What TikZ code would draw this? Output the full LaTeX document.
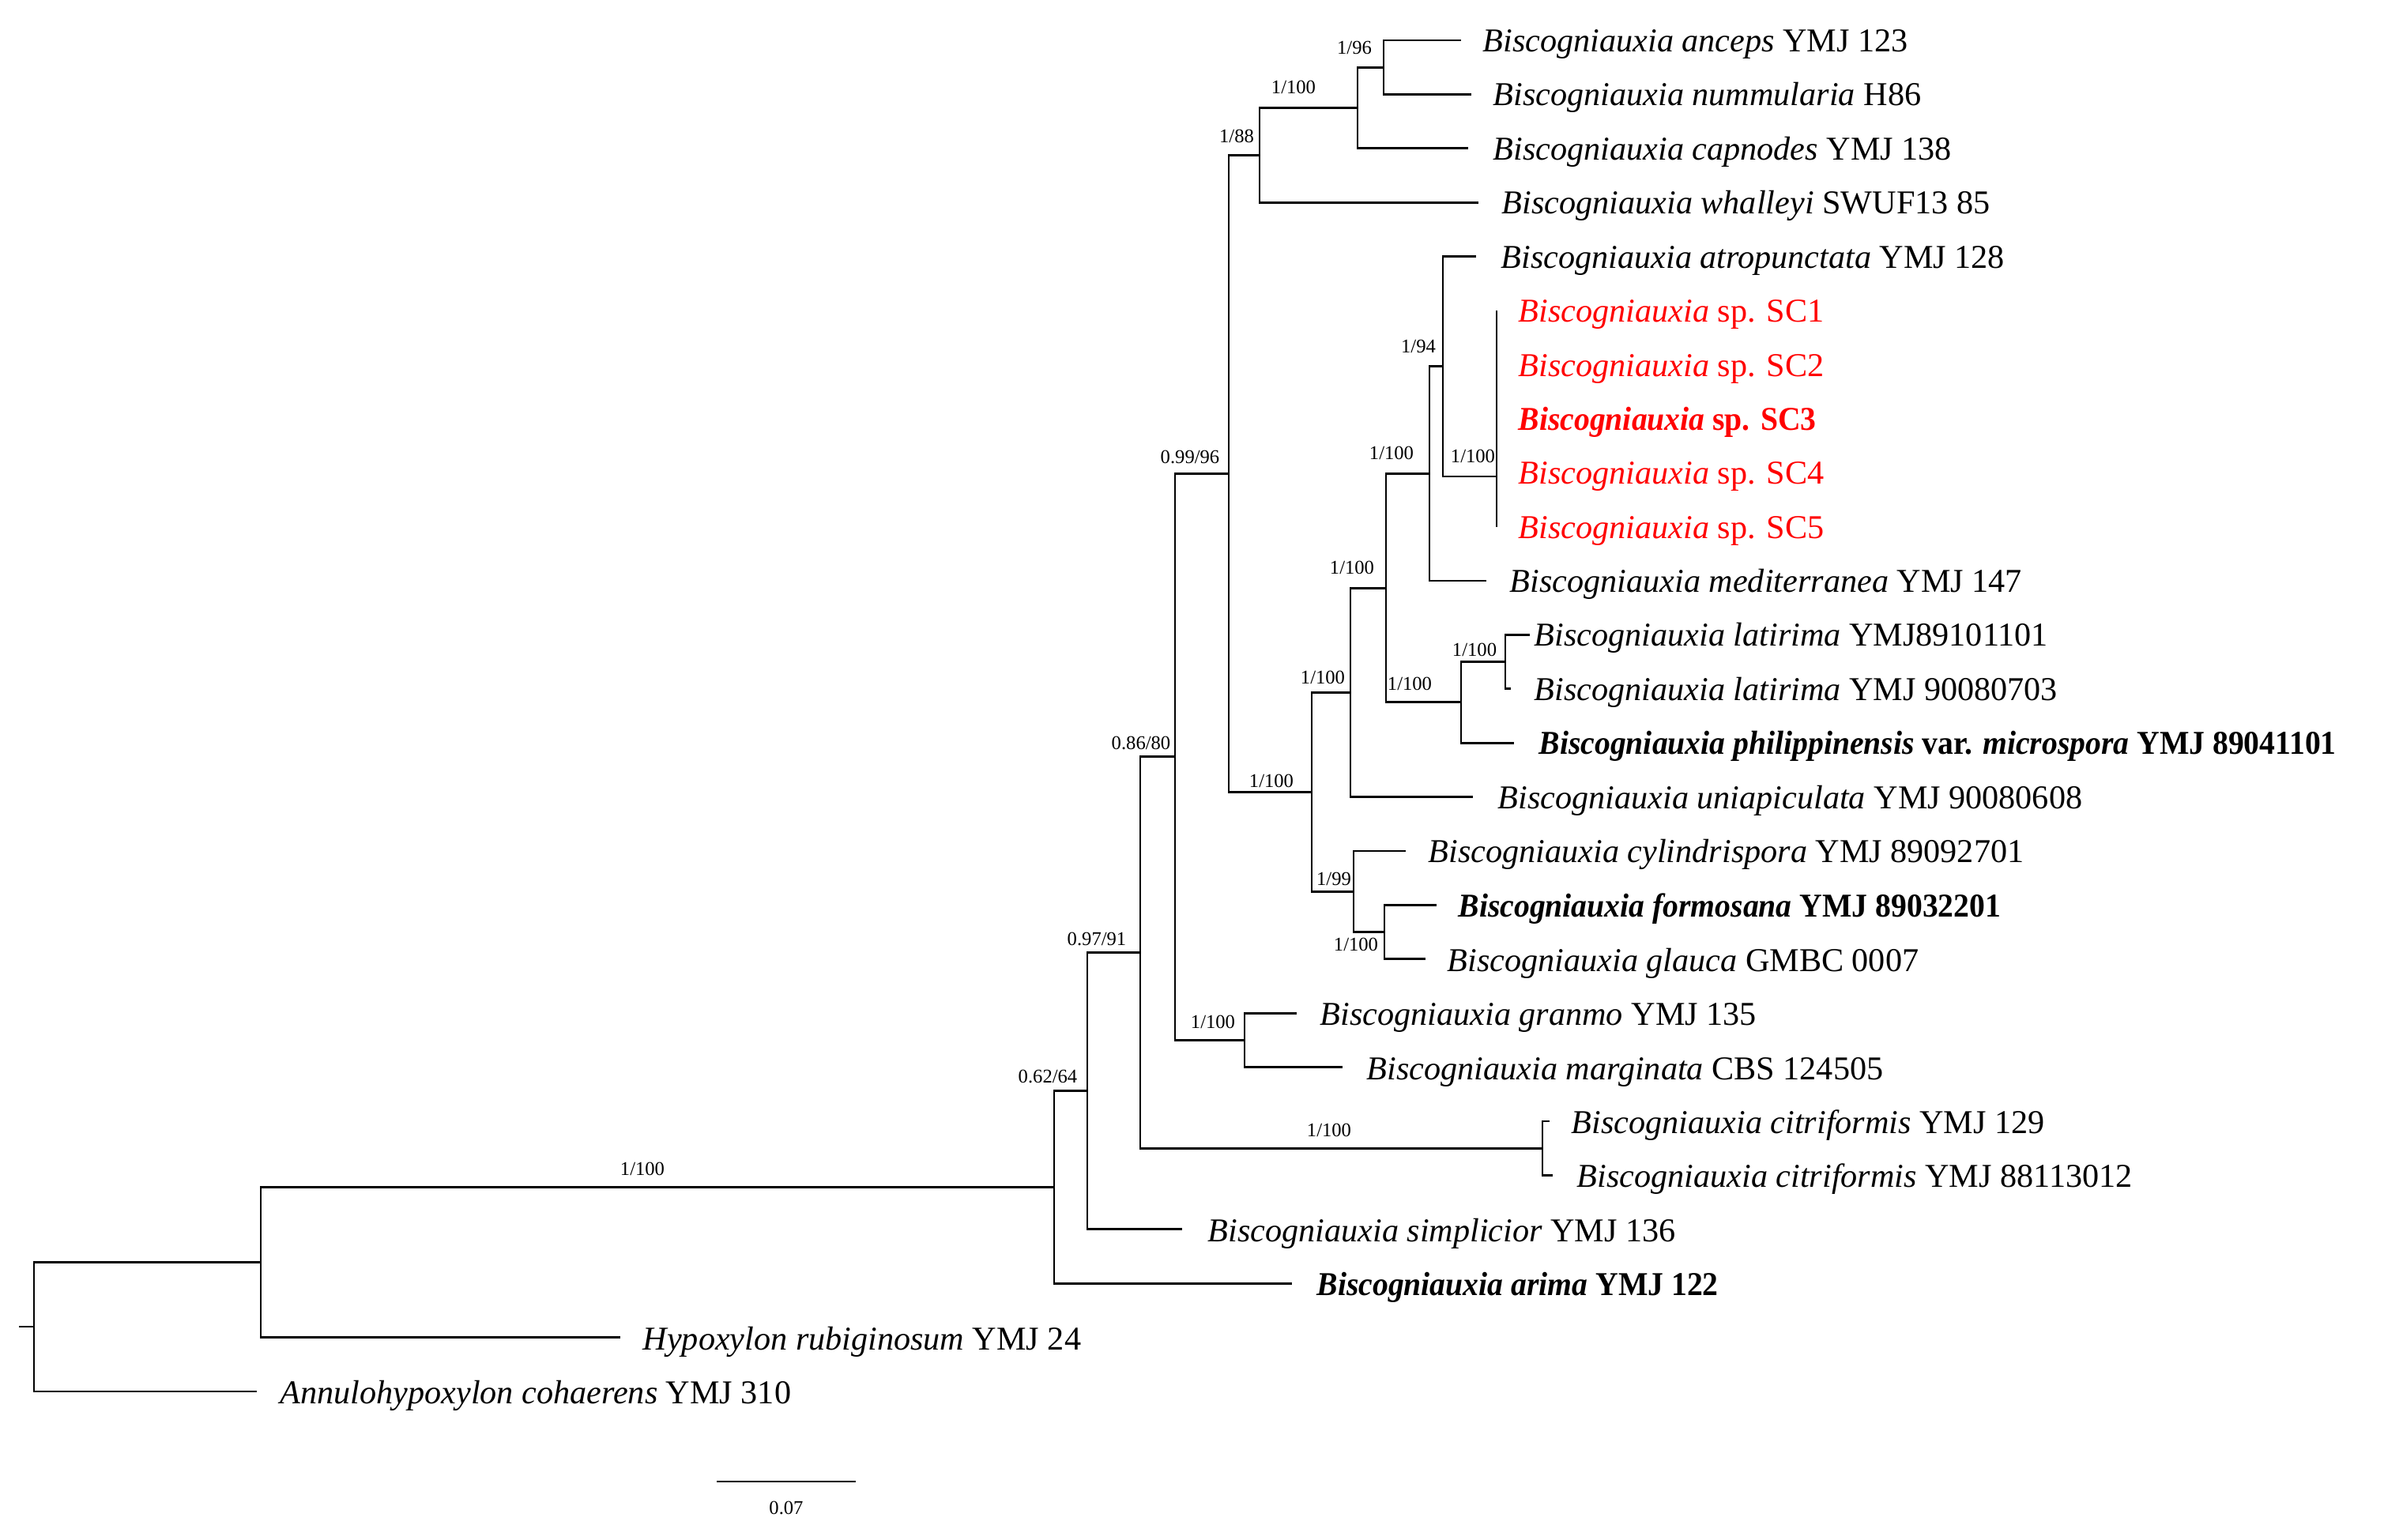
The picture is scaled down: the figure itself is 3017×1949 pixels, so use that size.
\documentclass[tikz,border=0pt]{standalone}
\usepackage{fontspec}
\setmainfont{Liberation Serif}[BoldFeatures={FakeStretch=0.94},BoldItalicFeatures={FakeStretch=0.94}]
\usetikzlibrary{positioning}
\begin{document}
\begin{tikzpicture}
	[x=0.01cm,y=-0.01cm,
	branch/.style={line width=0.8pt},
	taxon/.style={anchor=base west,inner sep=0pt,font=\fontsize{12}{14}\selectfont},
	ours/.style={taxon,text=red},
	support/.style={inner sep=0pt,font=\fontsize{7}{8}\selectfont}]
	\useasboundingbox (0,0) rectangle (3017,1949);
	% internal nodes
	\coordinate (stub) at (24,1679);
	\coordinate (root) at (43,1679);
	\coordinate (nHyp) at (330,1597.5);
	\coordinate (nArima) at (1334,1502.4);
	\coordinate (nSimpl) at (1376,1380.7);
	\coordinate (nCore) at (1443,1205.5);
	\coordinate (nCit) at (1952,1453.2);
	\coordinate (nMain) at (1487,957.9);
	\coordinate (nGM) at (1575,1316.4);
	\coordinate (nUpper) at (1555,599.35);
	\coordinate (nWhal) at (1594,196.35);
	\coordinate (nCap) at (1718,136.5);
	\coordinate (nAnc) at (1751,85.2);
	\coordinate (nLower) at (1660,1002.35);
	\coordinate (nCyl) at (1713,1128.3);
	\coordinate (nFG) at (1752,1179.6);
	\coordinate (nUni) at (1709,876.4);
	\coordinate (nPair) at (1754,744.2);
	\coordinate (nMed) at (1809,599.4);
	\coordinate (nAtro) at (1826,463.8);
	\coordinate (nSC) at (1894,603);
	\coordinate (nPhil) at (1849,888.9);
	\coordinate (nLat) at (1905,837.6);
	% tips
	\coordinate (anceps) at (1849,51);
	\coordinate (nummularia) at (1862,119.4);
	\coordinate (capnodes) at (1858,187.8);
	\coordinate (whalleyi) at (1871,256.2);
	\coordinate (atropunctata) at (1868,324.6);
	\coordinate (sc1) at (1894,393);
	\coordinate (sc5) at (1894,666.6);
	\coordinate (mediterranea) at (1881,735);
	\coordinate (latA) at (1936,803.4);
	\coordinate (latB) at (1912,871.8);
	\coordinate (philipp) at (1916,940.2);
	\coordinate (uniap) at (1864,1008.6);
	\coordinate (cylind) at (1779,1077);
	\coordinate (formosana) at (1818,1145.4);
	\coordinate (glauca) at (1804,1213.8);
	\coordinate (granmo) at (1641,1282.2);
	\coordinate (marginata) at (1699,1350.6);
	\coordinate (citA) at (1961,1419);
	\coordinate (citB) at (1965,1487.4);
	\coordinate (simplicior) at (1496,1555.8);
	\coordinate (arima) at (1635,1624.2);
	\coordinate (hypoxylon) at (785,1692.6);
	\coordinate (annulo) at (325,1761);
	% branches
	\draw[branch] (stub) -- (root);
	\draw[branch] (root) |- (nHyp);
	\draw[branch] (root) |- (annulo);
	\draw[branch] (nHyp) |- (nArima);
	\draw[branch] (nHyp) |- (hypoxylon);
	\draw[branch] (nArima) |- (nSimpl);
	\draw[branch] (nArima) |- (arima);
	\draw[branch] (nSimpl) |- (nCore);
	\draw[branch] (nSimpl) |- (simplicior);
	\draw[branch] (nCore) |- (nMain);
	\draw[branch] (nCore) |- (nCit);
	\draw[branch] (nCit) |- (citA);
	\draw[branch] (nCit) |- (citB);
	\draw[branch] (nMain) |- (nUpper);
	\draw[branch] (nMain) |- (nGM);
	\draw[branch] (nGM) |- (granmo);
	\draw[branch] (nGM) |- (marginata);
	\draw[branch] (nUpper) |- (nWhal);
	\draw[branch] (nUpper) |- (nLower);
	\draw[branch] (nWhal) |- (nCap);
	\draw[branch] (nWhal) |- (whalleyi);
	\draw[branch] (nCap) |- (nAnc);
	\draw[branch] (nCap) |- (capnodes);
	\draw[branch] (nAnc) |- (anceps);
	\draw[branch] (nAnc) |- (nummularia);
	\draw[branch] (nLower) |- (nUni);
	\draw[branch] (nLower) |- (nCyl);
	\draw[branch] (nCyl) |- (cylind);
	\draw[branch] (nCyl) |- (nFG);
	\draw[branch] (nFG) |- (formosana);
	\draw[branch] (nFG) |- (glauca);
	\draw[branch] (nUni) |- (nPair);
	\draw[branch] (nUni) |- (uniap);
	\draw[branch] (nPair) |- (nMed);
	\draw[branch] (nPair) |- (nPhil);
	\draw[branch] (nMed) |- (nAtro);
	\draw[branch] (nMed) |- (mediterranea);
	\draw[branch] (nAtro) |- (atropunctata);
	\draw[branch] (nAtro) |- (nSC);
	\draw[branch] (sc1) -- (sc5);
	\draw[branch] (nPhil) |- (nLat);
	\draw[branch] (nPhil) |- (philipp);
	\draw[branch] (nLat) |- (latA);
	\draw[branch] (nLat) |- (latB);
	% taxon names
	\node[taxon] (tAnceps) at (1876,66) {\textit{Biscogniauxia anceps} YMJ 123};
	\node[taxon] (tNumm) at (1889,134) {\textit{Biscogniauxia nummularia} H86};
	\node[taxon] (tCapn) at (1889,203) {\textit{Biscogniauxia capnodes} YMJ 138};
	\node[taxon] (tWhal) at (1900,271) {\textit{Biscogniauxia whalleyi} SWUF13 85};
	\node[taxon] (tAtro) at (1899,340) {\textit{Biscogniauxia atropunctata} YMJ 128};
	\node[ours] (tSC1) at (1921,408) {\textit{Biscogniauxia} sp. SC1};
	\node[ours] (tSC2) at (1921,477) {\textit{Biscogniauxia} sp. SC2};
	\node[ours] (tSC3) at (1921,545) {\textbf{\textit{Biscogniauxia} sp. SC3}};
	\node[ours] (tSC4) at (1921,613) {\textit{Biscogniauxia} sp. SC4};
	\node[ours] (tSC5) at (1921,682) {\textit{Biscogniauxia} sp. SC5};
	\node[taxon] (tMed) at (1910,750) {\textit{Biscogniauxia mediterranea} YMJ 147};
	\node[taxon] (tLatA) at (1941,818) {\textit{Biscogniauxia latirima} YMJ89101101};
	\node[taxon] (tLatB) at (1941,887) {\textit{Biscogniauxia latirima} YMJ 90080703};
	\node[taxon] (tPhil) at (1947,955) {\textbf{\textit{Biscogniauxia philippinensis} var. \textit{microspora} YMJ 89041101}};
	\node[taxon] (tUni) at (1895,1024) {\textit{Biscogniauxia uniapiculata} YMJ 90080608};
	\node[taxon] (tCyl) at (1807,1092) {\textit{Biscogniauxia cylindrispora} YMJ 89092701};
	\node[taxon] (tForm) at (1845,1160) {\textbf{\textit{Biscogniauxia formosana} YMJ 89032201}};
	\node[taxon] (tGlau) at (1831,1229) {\textit{Biscogniauxia glauca} GMBC 0007};
	\node[taxon] (tGran) at (1670,1297) {\textit{Biscogniauxia granmo} YMJ 135};
	\node[taxon] (tMarg) at (1729,1366) {\textit{Biscogniauxia marginata} CBS 124505};
	\node[taxon] (tCitA) at (1988,1434) {\textit{Biscogniauxia citriformis} YMJ 129};
	\node[taxon] (tCitB) at (1995,1502) {\textit{Biscogniauxia citriformis} YMJ 88113012};
	\node[taxon] (tSimp) at (1528,1571) {\textit{Biscogniauxia simplicior} YMJ 136};
	\node[taxon] (tArima) at (1666,1639) {\textbf{\textit{Biscogniauxia arima} YMJ 122}};
	\node[taxon] (tHyp) at (813,1708) {\textit{Hypoxylon rubiginosum} YMJ 24};
	\node[taxon] (tAnnulo) at (354,1776) {\textit{Annulohypoxylon cohaerens} YMJ 310};
	% support values
	\node[support] (s96) at (1714,60) {1/96};
	\node[support] (sCap) at (1637,110) {1/100};
	\node[support] (s88) at (1565,172) {1/88};
	\node[support] (sUpper) at (1506,578) {0.99/96};
	\node[support] (s94) at (1795,438) {1/94};
	\node[support] (sSC) at (1864,577) {1/100};
	\node[support] (sMed) at (1761,573) {1/100};
	\node[support] (sPair) at (1711,718) {1/100};
	\node[support] (sLat) at (1866,822) {1/100};
	\node[support] (sPhil) at (1784,865) {1/100};
	\node[support] (sUni) at (1674,857) {1/100};
	\node[support] (sLower) at (1609,988) {1/100};
	\node[support] (s99) at (1688,1112) {1/99};
	\node[support] (sFG) at (1716,1195) {1/100};
	\node[support] (sMain) at (1444,940) {0.86/80};
	\node[support] (sGM) at (1535,1293) {1/100};
	\node[support] (sCore) at (1388,1188) {0.97/91};
	\node[support] (sCit) at (1682,1430) {1/100};
	\node[support] (sSimpl) at (1326,1362) {0.62/64};
	\node[support] (sArima) at (813,1479) {1/100};
	% scale bar
	\coordinate (barL) at (907,1875);
	\coordinate (barR) at (1083,1875);
	\draw[branch] (barL) -- (barR);
	\node[support] (barText) at (995,1908) {0.07};
\end{tikzpicture}
\end{document}
